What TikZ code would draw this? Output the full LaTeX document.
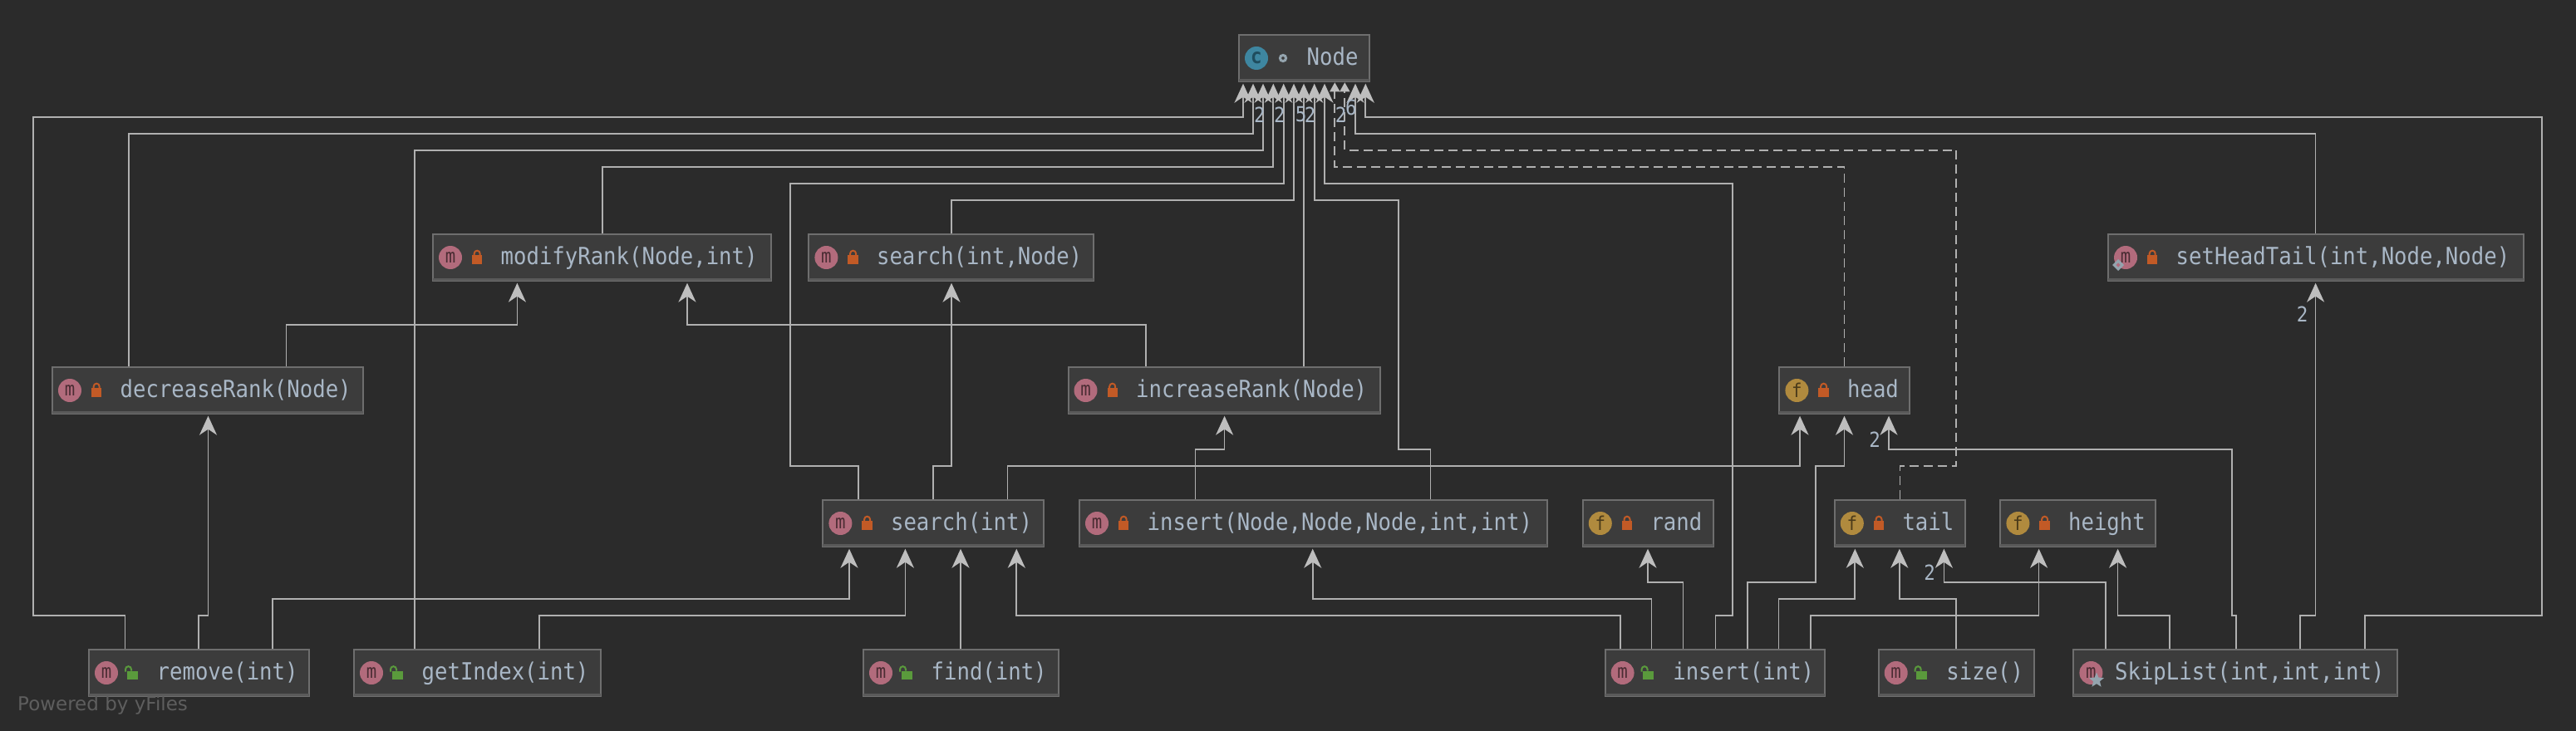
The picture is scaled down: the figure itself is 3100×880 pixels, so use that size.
\documentclass[tikz,border=0pt]{standalone}
\usepackage{fontspec}
\usetikzlibrary{arrows.meta,shapes.geometric}
\newfontfamily\umlmono[FakeStretch=0.9]{DejaVu Sans Mono}
\newfontfamily\umlsans{DejaVu Sans}
\definecolor{bgc}{HTML}{2B2B2B}
\definecolor{boxfill}{HTML}{3C3C3C}
\definecolor{boxline}{HTML}{6E6E6E}
\definecolor{boxband}{HTML}{5A5A5A}
\definecolor{linec}{HTML}{B0B0B0}
\definecolor{tipc}{HTML}{BEBEBE}
\definecolor{textc}{HTML}{A9B7C6}
\definecolor{mc}{HTML}{B26B7C}
\definecolor{mt}{HTML}{4A2C33}
\definecolor{fc}{HTML}{B08A3E}
\definecolor{ft}{HTML}{4A3A1A}
\definecolor{cc}{HTML}{3E86A0}
\definecolor{ct}{HTML}{1F4D5E}
\definecolor{lockc}{HTML}{C25A26}
\definecolor{lockg}{HTML}{5A9A3C}
\definecolor{markc}{HTML}{94A4AE}
\definecolor{yfc}{HTML}{5E5E5E}
\tikzset{
  umlb/.style={draw=boxline,fill=boxfill,line width=2pt,minimum height=56.6pt,inner sep=0pt},
  umltext/.style={text=textc,inner sep=0pt,font=\umlmono\fontsize{28.5}{32}\selectfont},
  iconm/.style={circle,fill=mc,text=mt,minimum size=28pt,inner sep=0pt,font=\umlmono\fontsize{23}{24}\selectfont},
  iconf/.style={circle,fill=fc,text=ft,minimum size=28pt,inner sep=0pt,font=\umlmono\fontsize{23}{24}\selectfont},
  iconc/.style={circle,fill=cc,text=ct,minimum size=28pt,inner sep=0pt,font=\umlmono\bfseries\fontsize{25}{25}\selectfont},
  conn/.style={draw=linec,line width=1.7pt,shorten >=1.4pt,-{Stealth[length=23pt,width=21pt,inset=7pt,color=tipc]}},
  dconn/.style={draw=linec,line width=1.7pt,dash pattern=on 11pt off 6pt,-{Triangle[length=11pt,width=12pt,color=tipc]}},
  numlab/.style={text=textc,inner sep=0pt,font=\umlmono\fontsize{25}{27}\selectfont},
}
\newcommand{\lockC}[2]{%
  \fill[lockc] (#1+48,#2+26.5) rectangle (#1+60.4,#2+37);
  \draw[lockc,line width=2pt] (#1+50.7,#2+27) -- (#1+50.7,#2+24.5) arc[start angle=180,end angle=0,radius=3.5pt] -- (#1+57.7,#2+27);
}
\newcommand{\lockO}[2]{%
  \fill[lockg] (#1+46.7,#2+27) rectangle (#1+59.6,#2+37);
  \draw[lockg,line width=2pt] (#1+45,#2+28) -- (#1+45,#2+25) arc[start angle=180,end angle=0,radius=3.5pt] -- (#1+52,#2+27);
}
\newcommand{\lockN}[2]{}
\newcommand{\umlbox}[9]{%
  \pgfmathsetmacro{\bw}{#3-#2-2}%
  \pgfmathsetmacro{\bc}{(#2+#3)/2}%
  \node[umlb,minimum width=\bw pt] (#1) at (\bc,#4+29.3) {};
  \draw[boxband,line width=3pt] (#2+1,#4+55.8) -- (#3-1,#4+55.8);
  \node[#5] (#1-i) at (#2+22,#4+29.3) {#6};
  #7{#2}{#4}
  \node[umltext,anchor=base west] (#1-t) at (#2+#8-0.5,#4+37.6) {#9};
}
\begin{document}
\begin{tikzpicture}[x=1pt,y=-1pt]
\fill[bgc] (0,0) rectangle (3100,880);
\useasboundingbox (0,0) rectangle (3100,880);
% boxes
\umlbox{Node}{1490}{1649}{40.7}{iconc}{c}{\lockN}{83}{Node}
\draw[markc,line width=3pt] (1544,70) circle[radius=3.6pt];
\umlbox{modRank}{520}{929}{280.7}{iconm}{m}{\lockC}{83}{modifyRank(Node,int)}
\umlbox{searchN}{972.4}{1317}{280.7}{iconm}{m}{\lockC}{83}{search(int,Node)}
\umlbox{setHT}{2536}{3037.7}{280.7}{iconm}{m}{\lockC}{83}{setHeadTail(int,Node,Node)}
\node[diamond,draw=markc,fill=mc,line width=3pt,minimum size=11pt,inner sep=0pt] (setHT-d) at (2549,319) {};
\umlbox{decRank}{62}{438}{440.7}{iconm}{m}{\lockC}{83}{decreaseRank(Node)}
\umlbox{incRank}{1284.5}{1662}{440.7}{iconm}{m}{\lockC}{83}{increaseRank(Node)}
\umlbox{head}{2140.4}{2299}{440.7}{iconf}{f}{\lockC}{83}{head}
\umlbox{searchI}{989.4}{1256.7}{600.7}{iconm}{m}{\lockC}{83}{search(int)}
\umlbox{insertN}{1298}{1862.7}{600.7}{iconm}{m}{\lockC}{83}{insert(Node,Node,Node,int,int)}
\umlbox{rand}{1903.8}{2062.6}{600.7}{iconf}{f}{\lockC}{83}{rand}
\umlbox{tail}{2206.8}{2365.6}{600.7}{iconf}{f}{\lockC}{83}{tail}
\umlbox{height}{2406.4}{2595}{600.7}{iconf}{f}{\lockC}{83}{height}
\umlbox{remove}{106}{373}{780.7}{iconm}{m}{\lockO}{83}{remove(int)}
\umlbox{getIndex}{425}{723.5}{780.7}{iconm}{m}{\lockO}{83}{getIndex(int)}
\umlbox{find}{1038}{1275}{780.7}{iconm}{m}{\lockO}{83}{find(int)}
\umlbox{insertI}{1930.6}{2197.2}{780.7}{iconm}{m}{\lockO}{83}{insert(int)}
\umlbox{size}{2259.7}{2448.5}{780.7}{iconm}{m}{\lockO}{83}{size()}
\umlbox{skip}{2494.4}{2886}{780.7}{iconm}{m}{\lockN}{51}{SkipList(int,int,int)}
\node[star,star points=5,star point ratio=2.3,fill=markc,minimum size=19pt,inner sep=0pt] (skip-s) at (2523,819) {};
% connectors into Node
\draw[conn] (150.5,0 |- remove.north) -- (150.5,740.7) -- (40,740.7) -- (40,140.7) -- (1496,140.7) -- (1496,0 |- Node.south);
\draw[conn] (155,0 |- decRank.north) -- (155,160.7) -- (1508,160.7) -- (1508,0 |- Node.south);
\draw[conn] (499,0 |- getIndex.north) -- (499,180.7) -- (1520,180.7) -- (1520,0 |- Node.south);
\draw[conn] (725,0 |- modRank.north) -- (725,200.7) -- (1532.3,200.7) -- (1532.3,0 |- Node.south);
\draw[conn] (1033,0 |- searchI.north) -- (1033,560.7) -- (951,560.7) -- (951,220.7) -- (1544.7,220.7) -- (1544.7,0 |- Node.south);
\draw[conn] (1145,0 |- searchN.north) -- (1145,240.7) -- (1557,240.7) -- (1557,0 |- Node.south);
\draw[conn] (1569,0 |- incRank.north) -- (1569,0 |- Node.south);
\draw[conn] (1721.5,0 |- insertN.north) -- (1721.5,540.7) -- (1683,540.7) -- (1683,240.7) -- (1581.7,240.7) -- (1581.7,0 |- Node.south);
\draw[conn] (2064.5,0 |- insertI.north) -- (2064.5,740.7) -- (2085,740.7) -- (2085,220.7) -- (1594,220.7) -- (1594,0 |- Node.south);
\draw[dconn] (2219.5,0 |- head.north) -- (2219.5,200.7) -- (1606.3,200.7) -- (1606.3,0 |- Node.south);
\draw[dconn] (2286.5,0 |- tail.north) -- (2286.5,560.7) -- (2354,560.7) -- (2354,180.7) -- (1618.3,180.7) -- (1618.3,0 |- Node.south);
\draw[conn] (2786.6,0 |- setHT.north) -- (2786.6,160.7) -- (1631,160.7) -- (1631,0 |- Node.south);
\draw[conn] (2846,0 |- skip.north) -- (2846,740.7) -- (3058.7,740.7) -- (3058.7,140.7) -- (1643.3,140.7) -- (1643.3,0 |- Node.south);
% other connectors
\draw[conn] (2768,0 |- skip.north) -- (2768,740.7) -- (2786.6,740.7) -- (2786.6,0 |- setHT.south);
\draw[conn] (1212.4,0 |- searchI.north) -- (1212.4,560.7) -- (2166,560.7) -- (2166,0 |- head.south);
\draw[conn] (2102.8,0 |- insertI.north) -- (2102.8,700.7) -- (2185,700.7) -- (2185,560.7) -- (2219.5,560.7) -- (2219.5,0 |- head.south);
\draw[conn] (2691,0 |- skip.north) -- (2691,740.7) -- (2685.7,740.7) -- (2685.7,540.7) -- (2273,540.7) -- (2273,0 |- head.south);
\draw[conn] (2025.6,0 |- insertI.north) -- (2025.6,700.7) -- (1983,700.7) -- (1983,0 |- rand.south);
\draw[conn] (2140.4,0 |- insertI.north) -- (2140.4,720.7) -- (2232.3,720.7) -- (2232.3,0 |- tail.south);
\draw[conn] (2354,0 |- size.north) -- (2354,720.7) -- (2285.8,720.7) -- (2285.8,0 |- tail.south);
\draw[conn] (2534,0 |- skip.north) -- (2534,700.7) -- (2339.4,700.7) -- (2339.4,0 |- tail.south);
\draw[conn] (2178.7,0 |- insertI.north) -- (2178.7,740.7) -- (2453.6,740.7) -- (2453.6,0 |- height.south);
\draw[conn] (2611,0 |- skip.north) -- (2611,740.7) -- (2548.6,740.7) -- (2548.6,0 |- height.south);
\draw[conn] (1987.4,0 |- insertI.north) -- (1987.4,720.7) -- (1579.7,720.7) -- (1579.7,0 |- insertN.south);
\draw[conn] (1949.7,0 |- insertI.north) -- (1949.7,740.7) -- (1223.3,740.7) -- (1223.3,0 |- searchI.south);
\draw[conn] (1156,0 |- find.north) -- (1156,0 |- searchI.south);
\draw[conn] (649,0 |- getIndex.north) -- (649,740.7) -- (1089.4,740.7) -- (1089.4,0 |- searchI.south);
\draw[conn] (328,0 |- remove.north) -- (328,720.7) -- (1022,720.7) -- (1022,0 |- searchI.south);
\draw[conn] (239,0 |- remove.north) -- (239,740.7) -- (250.5,740.7) -- (250.5,0 |- decRank.south);
\draw[conn] (344.4,0 |- decRank.north) -- (344.4,390.7) -- (622.4,390.7) -- (622.4,0 |- modRank.south);
\draw[conn] (1379,0 |- incRank.north) -- (1379,390.7) -- (827,390.7) -- (827,0 |- modRank.south);
\draw[conn] (1123.3,0 |- searchI.north) -- (1123.3,560.7) -- (1145,560.7) -- (1145,0 |- searchN.south);
\draw[conn] (1438.5,0 |- insertN.north) -- (1438.5,540.7) -- (1473.6,540.7) -- (1473.6,0 |- incRank.south);
% multiplicity labels
\node[numlab] (l1) at (1516,138) {2};
\node[numlab] (l2) at (1540,138) {2};
\node[numlab] (l3) at (1565.7,138) {5};
\node[numlab] (l4) at (1576.7,138) {2};
\node[numlab] (l5) at (1613.7,138) {2};
\node[numlab] (l6) at (1626,129) {6};
\node[numlab] (l7) at (2770.6,378.7) {2};
\node[numlab] (l8) at (2256,529.5) {2};
\node[numlab] (l9) at (2322,689) {2};
\node[anchor=base west,inner sep=0pt,text=yfc,font=\umlsans\fontsize{23}{26}\selectfont] (yf) at (21,855) {Powered by yFiles};
\end{tikzpicture}
\end{document}
